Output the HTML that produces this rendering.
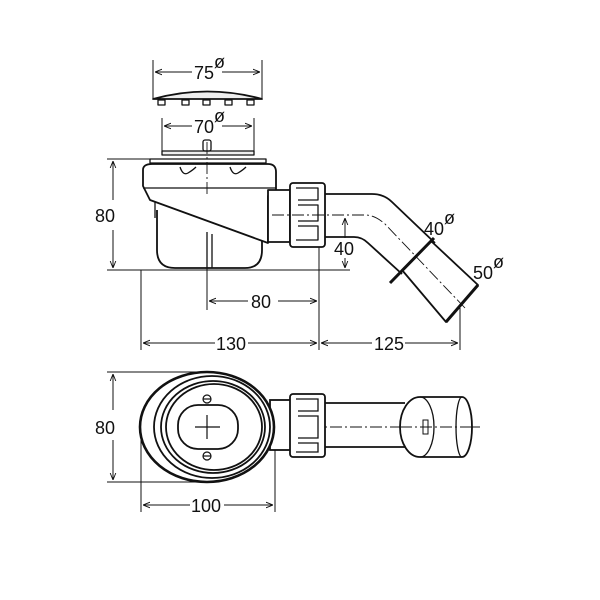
<!DOCTYPE html>
<html><head><style>body{margin:0;background:#fff}svg{display:block}text{font-family:"Liberation Sans",sans-serif;font-size:18px;fill:#111}</style></head><body>
<svg width="600" height="600" viewBox="0 0 600 600" xmlns="http://www.w3.org/2000/svg">
<defs>
<marker id="a" viewBox="0 0 10 10" refX="10" refY="5" markerWidth="7" markerHeight="7" orient="auto-start-reverse"><path d="M0,1 L10,5 L0,9" fill="none" stroke="#111" stroke-width="1.3"/></marker>
</defs>
<g fill="none" stroke="#111" stroke-width="1">
<line x1="153" y1="60" x2="153" y2="98"/><line x1="262" y1="60" x2="262" y2="98"/>
<line x1="155" y1="72" x2="192" y2="72" marker-start="url(#a)"/><line x1="222" y1="72" x2="260" y2="72" marker-end="url(#a)"/>
<line x1="162" y1="118" x2="162" y2="153"/><line x1="254" y1="118" x2="254" y2="153"/>
<line x1="164" y1="126" x2="192" y2="126" marker-start="url(#a)"/><line x1="222" y1="126" x2="252" y2="126" marker-end="url(#a)"/>
<line x1="107" y1="159" x2="150" y2="159"/><line x1="107" y1="270" x2="350" y2="270"/>
<line x1="113" y1="161" x2="113" y2="200" marker-start="url(#a)"/><line x1="113" y1="230" x2="113" y2="268" marker-end="url(#a)"/>
<line x1="345" y1="218" x2="345" y2="238" marker-start="url(#a)"/><line x1="345" y1="258" x2="345" y2="268" marker-end="url(#a)"/>
<line x1="141" y1="270" x2="141" y2="350"/><line x1="207" y1="268" x2="207" y2="310"/><line x1="319" y1="247" x2="319" y2="350"/><line x1="460" y1="308" x2="460" y2="350"/>
<line x1="209" y1="301" x2="248" y2="301" marker-start="url(#a)"/><line x1="278" y1="301" x2="317" y2="301" marker-end="url(#a)"/>
<line x1="143" y1="343" x2="215" y2="343" marker-start="url(#a)"/><line x1="248" y1="343" x2="317" y2="343" marker-end="url(#a)"/>
<line x1="321" y1="343" x2="372" y2="343" marker-start="url(#a)"/><line x1="405" y1="343" x2="458" y2="343" marker-end="url(#a)"/>
</g>
<g fill="none" stroke="#111" stroke-width="1.8" stroke-linejoin="round">
<path d="M153,99 Q207,84 262,99 Z" fill="#eee"/>
<g stroke-width="1.3"><rect x="158" y="100" width="7" height="5"/><rect x="182" y="100" width="7" height="5"/><rect x="203" y="100" width="7" height="5"/><rect x="225" y="100" width="7" height="5"/><rect x="247" y="100" width="7" height="5"/></g>
<rect x="162" y="151" width="92" height="4" fill="#eee" stroke-width="1.3"/>
<rect x="203" y="140" width="8" height="11" rx="2" stroke-width="1.3"/>
<rect x="150" y="159" width="116" height="4" stroke-width="1.3"/>
<!-- bowl -->
<path d="M157,210 L157,250 Q157,268 175,268 L245,268 Q262,268 262,250 L262,238" fill="#fff"/>
<line x1="155" y1="200" x2="155" y2="218" stroke-width="1.3"/>
<!-- upper body -->
<path d="M143,170 Q143,164 152,164 L268,164 Q276,164 276,172 L276,190 L268,196 L268,243 L150,200 L143,186 Z" fill="#fff"/>
<path d="M143,188 L276,188" stroke-width="1.3"/>
<path d="M180,167 Q183,176 188,173 Q193,170 196,167 M230,167 Q233,176 238,173 Q243,170 246,167" stroke-width="1.3"/>
<line x1="207" y1="232" x2="207" y2="268" stroke-width="1.3"/><line x1="212" y1="234" x2="212" y2="268" stroke-width="1.3"/>
<rect x="268" y="190" width="22" height="52" fill="#fff"/>
<rect x="290" y="183" width="35" height="64" rx="3" fill="#fff"/>
<path d="M296,188 L318,188 L318,200 L298,200 M298,205 L318,205 L318,221 L298,221 M298,226 L318,226 L318,240 L296,240" stroke-width="1.3"/>
<path d="M325,194 L372,194 Q384,194 392,202 L435,243 M325,237 L354,237 Q362,237 368,243 L402,274" fill="none"/>
<path d="M402,270 L431,241 L478,285 L446,322 Z" fill="#fff"/>
<line x1="390" y1="283" x2="434" y2="238" stroke-width="3"/>
<line x1="446" y1="322" x2="478" y2="285" stroke-width="3"/>
</g>
<g stroke="#111" stroke-width="0.9" stroke-dasharray="12,3,2,3" fill="none">
<path d="M272,215 L365,215 Q375,215 385,224 L465,308"/>
<line x1="207" y1="142" x2="207" y2="195"/>
<line x1="190" y1="427" x2="480" y2="427"/>
</g>
<g fill="none" stroke="#111" stroke-width="1.8">
<line x1="107" y1="372" x2="200" y2="372" stroke-width="1"/><line x1="107" y1="482" x2="200" y2="482" stroke-width="1"/>
<line x1="113" y1="374" x2="113" y2="410" stroke-width="1" marker-start="url(#a)"/><line x1="113" y1="440" x2="113" y2="480" stroke-width="1" marker-end="url(#a)"/>
<line x1="141" y1="440" x2="141" y2="512" stroke-width="1"/><line x1="275" y1="440" x2="275" y2="512" stroke-width="1"/>
<line x1="143" y1="505" x2="190" y2="505" stroke-width="1" marker-start="url(#a)"/><line x1="224" y1="505" x2="273" y2="505" stroke-width="1" marker-end="url(#a)"/>
<rect x="270" y="400" width="22" height="50" fill="#fff"/>
<ellipse cx="207" cy="427" rx="67" ry="55" fill="#fff" stroke-width="2.6"/>
<ellipse cx="212" cy="427" rx="58" ry="51"/>
<ellipse cx="213" cy="427" rx="52" ry="46"/>
<ellipse cx="214" cy="427" rx="48" ry="43"/>
<rect x="178" y="405" width="60" height="44" rx="20"/>
<g stroke-width="1.2"><line x1="207" y1="415" x2="207" y2="439"/><line x1="195" y1="427" x2="220" y2="427"/>
<circle cx="207" cy="399" r="4"/><line x1="203" y1="399" x2="211" y2="399"/>
<circle cx="207" cy="456" r="4"/><line x1="203" y1="456" x2="211" y2="456"/></g>
<rect x="290" y="394" width="35" height="63" rx="3" fill="#fff"/>
<path d="M296,399 L318,399 L318,411 L298,411 M298,416 L318,416 L318,438 L298,438 M298,443 L318,443 L318,452 L296,452" stroke-width="1.3"/>
<path d="M325,403 L405,403 M325,447 L405,447"/>
<path d="M420,397 L462,397 A10,30 0 0 1 462,457 L420,457 A20,30 0 0 1 400,427 A20,30 0 0 1 420,397 Z" fill="#fff"/>
<path d="M420,397 A14,30 0 0 1 420,457" stroke-width="1.3"/>
<path d="M462,397 A6,30 0 0 0 462,457" stroke-width="1.3"/>
<rect x="423" y="420" width="5" height="14" stroke-width="1"/>
</g>
<g stroke="#111" stroke-width="0.9" stroke-dasharray="12,3,2,3"><line x1="400" y1="427" x2="480" y2="427"/></g>
<text x="194" y="79">75</text><text x="214" y="68" font-size="12">ø</text>
<text x="194" y="133">70</text><text x="214" y="122" font-size="12">ø</text>
<text x="95" y="222">80</text>
<text x="334" y="255">40</text>
<text x="251" y="308">80</text>
<text x="216" y="350">130</text>
<text x="374" y="350">125</text>
<text x="424" y="235">40</text><text x="444" y="224" font-size="12">ø</text>
<text x="473" y="279">50</text><text x="493" y="268" font-size="12">ø</text>
<text x="95" y="434">80</text>
<text x="191" y="512">100</text>
</svg>
</body></html>
